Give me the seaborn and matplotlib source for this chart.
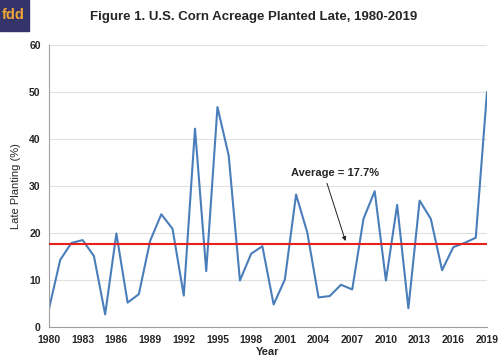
import matplotlib.pyplot as plt
import seaborn as sns
import numpy as np
import pandas as pd

sns.set_theme(style="whitegrid")
plt.rcParams['font.family'] = ['Liberation Sans', 'DejaVu Sans']

# Data
years = list(range(1980, 2020))
late_pct = [3.9, 14.3, 17.9, 18.5, 15.1, 2.7, 19.9, 5.2, 7.0, 18.3,
            24.0, 20.9, 6.7, 42.2, 11.9, 46.8, 36.5, 9.9, 15.6, 17.2,
            4.8, 10.1, 28.2, 20.1, 6.3, 6.6, 9.0, 8.0, 23.0, 28.9,
            9.9, 26.0, 4.0, 26.9, 23.0, 12.1, 17.0, 17.9, 19.0, 50.0]
average = 17.7
y_ticks = [0, 10, 20, 30, 40, 50, 60]
x_ticks = list(range(1980, 2020, 3))

df = pd.DataFrame({"Year": years, "Late": late_pct})

fig = plt.figure(figsize=(5, 3.63), dpi=100)
ax = fig.add_axes([0.098, 0.099, 0.876, 0.777])

sns.lineplot(data=df, x="Year", y="Late", ax=ax, color="#4a7ebb", linewidth=1.5)
ax.axhline(average, color="#e8201c", linewidth=1.5, zorder=3)

ax.set_xlim(1980, 2019)
ax.set_ylim(0, 60)
ax.set_yticks(y_ticks)
ax.set_xticks(x_ticks)
ax.set_xticks(years, minor=True)
ax.grid(axis="x", visible=False)
ax.grid(axis="y", color="#e0e0e0", linewidth=0.8)
for s in ["top", "right"]:
    ax.spines[s].set_visible(False)
for s in ["left", "bottom"]:
    ax.spines[s].set_color("#a0a0a0")
    ax.spines[s].set_linewidth(0.8)
ax.tick_params(axis="both", which="both", direction="out", color="#a0a0a0",
               labelsize=7.5, pad=2)
ax.tick_params(axis="x", which="major", length=4)
ax.tick_params(axis="x", which="minor", length=3)
ax.tick_params(axis="y", length=4)
for lbl in ax.get_xticklabels() + ax.get_yticklabels():
    lbl.set_fontweight("bold")

ax.set_xlabel("Year", fontsize=8, fontweight="bold", labelpad=1)
ax.set_ylabel("Late Planting (%)", fontsize=8, labelpad=6)

# average label with arrow
ax.text(2005.5, 32.8, "Average = 17.7%", ha="center", va="center",
        fontsize=8, fontweight="bold")
ax.annotate("", xy=(2006.4, 18.3), xytext=(2004.75, 30.6),
            arrowprops=dict(arrowstyle="-|>", color="#222222", lw=0.7,
                            shrinkA=0, shrinkB=0, mutation_scale=6))

fig.text(0.508, 0.952, "Figure 1. U.S. Corn Acreage Planted Late, 1980-2019",
         ha="center", va="center", fontsize=9.5, fontweight="bold")

# fdd logo box
fig.patches.append(plt.Rectangle((0, 1 - 31 / 363), 29 / 500, 31 / 363,
                                 transform=fig.transFigure, color="#34346a",
                                 zorder=5))
fig.text(0.026, 1 - 15 / 363, "fdd", ha="center", va="center", fontsize=10.5,
         fontweight="bold", color="#f0a535", zorder=6)

plt.savefig("out.png", dpi=100)
plt.close()
